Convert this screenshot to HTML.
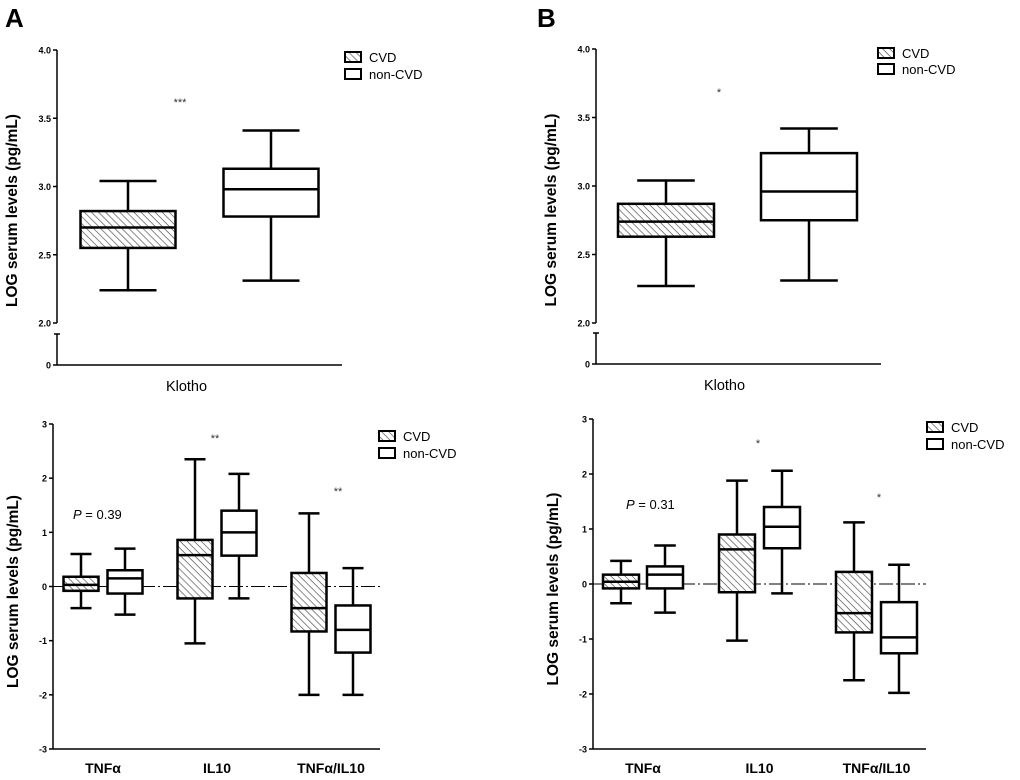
<!DOCTYPE html>
<html><head><meta charset="utf-8"><style>
body{margin:0;background:#fff;}
svg{display:block;font-family:"Liberation Sans",sans-serif;}
</style></head><body>
<svg id="chart" width="1020" height="780" viewBox="0 0 1020 780">
<defs>
<pattern id="hatch" width="5" height="5" patternUnits="userSpaceOnUse" patternTransform="rotate(45)">
<rect width="5" height="5" fill="#fff"/>
<line x1="0" y1="0" x2="5" y2="0" stroke="#555" stroke-width="1.4"/>
</pattern>
</defs>
<text x="5" y="27" font-size="26" font-weight="bold">A</text>
<text x="537" y="27" font-size="26" font-weight="bold">B</text>
</svg>
<script>
// ---- data ----
const groups = ["CVD", "non-CVD"];
const klothoA_CVD = [2.24, 2.55, 2.70, 2.82, 3.04];
const klothoA_non = [2.31, 2.78, 2.98, 3.13, 3.41];
const klothoB_CVD = [2.27, 2.63, 2.74, 2.87, 3.04];
const klothoB_non = [2.31, 2.75, 2.96, 3.24, 3.42];
const categories = ["TNFα", "IL10", "TNFα/IL10"];
const cytoA_CVD = [[-0.40,-0.08,0.03,0.18,0.60],[-1.05,-0.22,0.58,0.86,2.35],[-2.00,-0.83,-0.40,0.25,1.35]];
const cytoA_non = [[-0.52,-0.13,0.15,0.30,0.70],[-0.22,0.57,1.00,1.40,2.08],[-2.00,-1.22,-0.80,-0.35,0.34]];
const cytoB_CVD = [[-0.35,-0.08,0.04,0.17,0.42],[-1.03,-0.15,0.63,0.90,1.88],[-1.75,-0.88,-0.53,0.22,1.12]];
const cytoB_non = [[-0.52,-0.08,0.17,0.32,0.70],[-0.17,0.65,1.04,1.40,2.06],[-1.98,-1.26,-0.97,-0.33,0.35]];
const klothoTicks = ["2.0","2.5","3.0","3.5","4.0"];
const cytoTicks = ["-3","-2","-1","0","1","2","3"];

const svg = document.getElementById('chart');
const NS = "http://www.w3.org/2000/svg";
function mk(tag, attrs, parent){
  const e = document.createElementNS(NS, tag);
  for (const k in attrs) e.setAttribute(k, attrs[k]);
  (parent||svg).appendChild(e);
  return e;
}
function txt(x,y,s,size,extra){
  const t = mk('text', Object.assign({x:x,y:y,'font-size':size}, extra||{}));
  t.textContent = s; return t;
}
function box(g, cx, w, v, y, hatched, name){
  const grp = mk('g', {}, g);
  
  
  const cap = w*0.3;
  mk('line',{x1:cx,x2:cx,y1:y(v[0]),y2:y(v[1]),stroke:'#000','stroke-width':2.5},grp);
  mk('line',{x1:cx,x2:cx,y1:y(v[3]),y2:y(v[4]),stroke:'#000','stroke-width':2.5},grp);
  mk('line',{x1:cx-cap,x2:cx+cap,y1:y(v[0]),y2:y(v[0]),stroke:'#000','stroke-width':2.5},grp);
  mk('line',{x1:cx-cap,x2:cx+cap,y1:y(v[4]),y2:y(v[4]),stroke:'#000','stroke-width':2.5},grp);
  mk('rect',{x:cx-w/2,y:y(v[3]),width:w,height:y(v[1])-y(v[3]),fill:hatched?'url(#hatch)':'#fff',stroke:'#000','stroke-width':2.5},grp);
  mk('line',{x1:cx-w/2,x2:cx+w/2,y1:y(v[2]),y2:y(v[2]),stroke:'#000','stroke-width':2.5},grp);
}
function legend(x, y, y2, name){
  const g = mk('g',{});
  
  
  mk('rect',{x:x,y:y,width:16,height:10,fill:'url(#hatch)',stroke:'#000','stroke-width':2},g);
  mk('rect',{x:x,y:y2,width:16,height:10,fill:'#fff',stroke:'#000','stroke-width':2},g);
  const a = txt(x+24,y+10,groups[0],13); g.appendChild(a);
  const b = txt(x+24,y2+10,groups[1],13); g.appendChild(b);
}
function ylabel(x, cy, name){
  const t = txt(x, cy, "LOG serum levels (pg/mL)", 15.5, {'font-weight':'bold','text-anchor':'middle',transform:`rotate(-90 ${x} ${cy})`});
  
  
}
function klotho(ax, xEnd, y40, y20, y0, cxC, cxN, w, dC, dN, star, starX, starY, leg, lab){
  const y = v => y20 + (v-2)*(y40-y20)/2;
  const g = mk('g',{});
  
  
  mk('line',{x1:ax,x2:ax,y1:y40,y2:y20,stroke:'#000','stroke-width':1.5},g);
  mk('line',{x1:ax,x2:ax,y1:y0-31,y2:y0,stroke:'#000','stroke-width':1.5},g);
  mk('line',{x1:ax-3,x2:ax+3,y1:y0-31,y2:y0-31,stroke:'#000','stroke-width':1.5},g);
  mk('line',{x1:ax,x2:xEnd,y1:y0,y2:y0,stroke:'#000','stroke-width':1.5},g);
  klothoTicks.forEach(s=>{
    const v=parseFloat(s);
    mk('line',{x1:ax-4,x2:ax,y1:y(v),y2:y(v),stroke:'#000','stroke-width':1.5},g);
    g.appendChild(txt(ax-6,y(v)+3.5,s,9,{'text-anchor':'end','font-weight':'bold'}));
  });
  mk('line',{x1:ax-4,x2:ax,y1:y0,y2:y0,stroke:'#000','stroke-width':1.5},g);
  g.appendChild(txt(ax-6,y0+3.5,"0",9,{'text-anchor':'end','font-weight':'bold'}));
  box(g,cxC,w,dC,y,true,lab+'-klotho-cvd-box');
  box(g,cxN,w,dN,y,false,lab+'-klotho-noncvd-box');
  g.appendChild(txt(starX,starY,star,11,{'text-anchor':'middle',fill:'#333'}));
  g.appendChild(txt((cxC+cxN)/2-13,y0+26,"Klotho",14.5,{'text-anchor':'middle'}));
  ylabel(ax-40,(y40+y20)/2+24,lab+'-klotho-y-title');
  legend(leg[0],leg[1],leg[2],lab+'-klotho-legend');
}
function cyto(ax, xEnd, y3, yM3, centers, w, dC, dN, pTxt, pX, pY, stars, leg, lab){
  const y = v => y3 + (3-v)*(yM3-y3)/6;
  const g = mk('g',{});
  
  
  mk('line',{x1:ax,x2:ax,y1:y3,y2:yM3,stroke:'#000','stroke-width':1.5},g);
  mk('line',{x1:ax,x2:xEnd,y1:yM3,y2:yM3,stroke:'#000','stroke-width':1.5},g);
  mk('line',{x1:ax,x2:xEnd,y1:y(0),y2:y(0),stroke:'#000','stroke-width':1,'stroke-dasharray':'14,3,2,3'},g);
  cytoTicks.forEach(s=>{
    const v=parseFloat(s);
    mk('line',{x1:ax-4,x2:ax,y1:y(v),y2:y(v),stroke:'#000','stroke-width':1.5},g);
    g.appendChild(txt(ax-6,y(v)+3.5,s,9,{'text-anchor':'end','font-weight':'bold'}));
  });
  categories.forEach((c,i)=>{
    box(g,centers[i][0],w,dC[i],y,true,lab+'-'+i+'-cvd-box');
    box(g,centers[i][1],w,dN[i],y,false,lab+'-'+i+'-noncvd-box');
    g.appendChild(txt((centers[i][0]+centers[i][1])/2,yM3+24,c,14,{'text-anchor':'middle','font-weight':'bold'}));
  });
  const p = txt(pX,pY,"",13); p.innerHTML = '<tspan font-style="italic">P</tspan> = '+pTxt; g.appendChild(p);
  stars.forEach(s=>g.appendChild(txt(s[1],s[2],s[0],11,{'text-anchor':'middle',fill:'#333'})));
  ylabel(ax-35,(y3+yM3)/2+5,lab+'-cytokine-y-title');
  legend(leg[0],leg[1],leg[2],lab+'-cytokine-legend');
}
klotho(57,342,50,323,365,128,271,95,klothoA_CVD,klothoA_non,"***",180,106,[345,52,69],'a');
klotho(596,881,49,323,364,666,809,96,klothoB_CVD,klothoB_non,"*",719,96,[878,48,64],'b');
cyto(53,380,424,749,[[81,125],[195,239],[309,353]],35,cytoA_CVD,cytoA_non,"0.39",73,519,[["**",215,442],["**",338,495]],[379,431,448],'a');
cyto(593,926,419,749,[[621,665],[737,782],[854,899]],36,cytoB_CVD,cytoB_non,"0.31",626,509,[["*",758,447],["*",879,501]],[927,422,439],'b');
</script>
</body></html>
